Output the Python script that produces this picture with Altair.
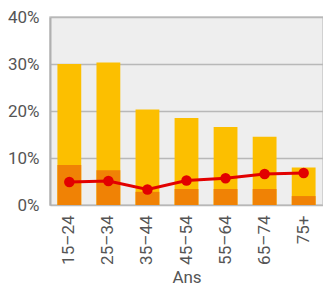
import altair as alt
import pandas as pd

categories = ["15–24", "25–34", "35–44", "45–54", "55–64", "65–74", "75+"]
total = [30.0, 30.3, 20.3, 18.5, 16.6, 14.5, 8.0]
lower = [8.5, 7.4, 2.8, 3.4, 3.4, 3.4, 1.9]
line_vals = [4.9, 5.1, 3.3, 5.2, 5.7, 6.6, 6.8]

df = pd.DataFrame({
    "cat": categories,
    "total": [v / 100 for v in total],
    "lower": [v / 100 for v in lower],
    "line": [v / 100 for v in line_vals],
})

FONT = "Roboto"
x_enc = alt.X(
    "cat:N",
    sort=categories,
    title="Ans",
    scale=alt.Scale(paddingInner=0.39, paddingOuter=0.19),
    axis=alt.Axis(
        labelAngle=-90,
        labelFontSize=17,
        labelColor="#555555",
        labelFont=FONT,
        labelPadding=10,
        ticks=False,
        domain=False,
        titleFontSize=17,
        titleFont=FONT,
        titleColor="#555555",
        titleFontWeight="normal",
        titlePadding=5,
    ),
)
y_scale = alt.Scale(domain=[0, 0.4])
y_axis = alt.Axis(
    format="%",
    values=[0, 0.1, 0.2, 0.3, 0.4],
    labelFontSize=17,
    labelColor="#555555",
    labelFont=FONT,
    labelPadding=11,
    ticks=False,
    domain=True,
    domainColor="#b0b0b0",
    domainWidth=2,
    gridColor="#b8b8b8",
    gridWidth=1.5,
    title=None,
)

base = alt.Chart(df)
bars_total = base.mark_bar(color="#fcbf00").encode(
    x=x_enc, y=alt.Y("total:Q", scale=y_scale, axis=y_axis)
)
bars_lower = base.mark_bar(color="#f08205").encode(x=x_enc, y=alt.Y("lower:Q"))
line = base.mark_line(color="#e20000", strokeWidth=3).encode(x=x_enc, y=alt.Y("line:Q"))
points = base.mark_circle(color="#e20000", size=110, opacity=1).encode(
    x=x_enc, y=alt.Y("line:Q")
)

chart = (
    alt.layer(bars_total, bars_lower, line, points)
    .properties(
        width=273,
        height=188,
        background="white",
        padding={"left": 42, "top": 9, "right": 0, "bottom": 82},
        autosize=alt.AutoSizeParams(type="none"),
    )
    .configure_view(fill="#eeeeee", stroke="#c8c8c8", strokeWidth=1.5)
)

chart.save("out.html", embed_options={"renderer": "svg", "actions": False})
